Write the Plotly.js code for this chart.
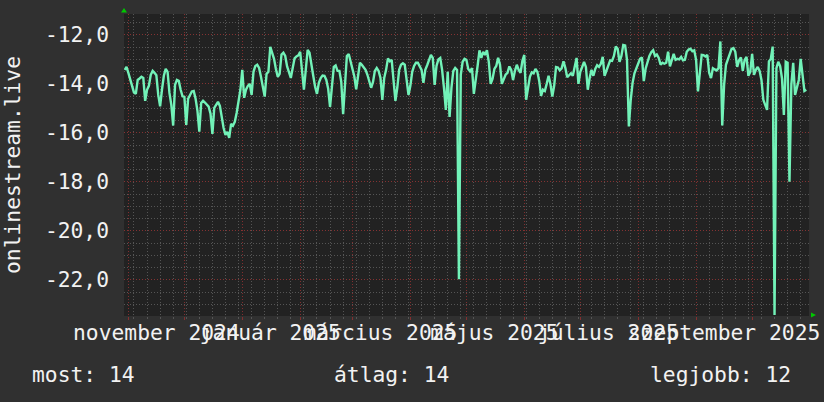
<!DOCTYPE html>
<html>
<head>
<meta charset="utf-8">
<script src="https://cdn.plot.ly/plotly-3.0.1.min.js"></script>
<style>
html, body { margin: 0; padding: 0; background: #303030; }
#chart { width: 824px; height: 402px; }
</style>
</head>
<body>
<div id="chart"></div>
<script>
// ---- data (one value per day, starting at startDate) ----
const startDate = '2024-10-30';
const values = [
-13.43,-13.31,-13.55,-13.80,-14.00,-14.35,-14.41,-13.84,-13.78,-13.71,
-13.76,-14.69,-14.24,-14.08,-13.63,-13.47,-13.55,-13.65,-14.45,-14.92,
-14.24,-13.67,-13.39,-13.51,-14.37,-14.86,-15.70,-14.04,-13.84,-13.88,
-14.24,-14.51,-14.53,-15.67,-14.61,-14.45,-14.31,-14.29,-14.61,-15.10,
-15.95,-14.78,-14.69,-14.76,-14.84,-14.93,-15.22,-16.04,-14.98,-14.82,
-14.73,-14.90,-15.39,-15.80,-16.08,-15.96,-16.20,-15.63,-15.71,-15.55,
-15.18,-14.65,-14.24,-13.43,-14.57,-14.24,-14.08,-14.00,-14.45,-13.51,
-13.27,-13.22,-13.35,-13.71,-14.20,-14.52,-13.59,-13.51,-12.49,-12.73,
-12.98,-13.39,-13.71,-13.59,-12.80,-12.73,-12.86,-13.29,-13.51,-13.76,
-13.35,-12.96,-12.88,-12.84,-12.69,-13.51,-14.24,-13.43,-12.61,-12.73,
-13.27,-13.67,-14.12,-14.41,-13.96,-13.76,-13.66,-13.67,-13.84,-14.20,
-14.94,-14.08,-13.31,-13.25,-13.47,-13.47,-13.92,-15.24,-14.16,-12.86,
-12.78,-13.06,-13.39,-13.70,-14.22,-13.67,-13.14,-13.22,-13.35,-13.43,
-13.63,-13.96,-14.16,-13.92,-13.47,-13.35,-13.47,-13.76,-14.65,-13.76,
-13.43,-12.96,-13.08,-13.02,-14.04,-14.69,-14.16,-13.43,-13.22,-13.16,
-13.22,-13.92,-14.45,-14.08,-13.51,-13.27,-13.14,-13.14,-13.27,-13.43,
-13.96,-13.43,-13.24,-13.06,-12.82,-12.94,-14.04,-13.27,-13.00,-12.94,
-13.43,-14.16,-15.06,-13.51,-15.35,-14.16,-13.47,-13.35,-13.43,-21.97,
-13.63,-13.10,-12.98,-13.02,-13.39,-13.49,-13.36,-14.41,-13.92,-13.27,
-12.63,-12.94,-12.69,-12.82,-12.63,-13.10,-14.00,-13.80,-13.39,-13.27,
-12.94,-13.22,-14.00,-13.78,-13.63,-13.55,-13.29,-13.43,-13.84,-13.47,
-13.22,-13.43,-13.55,-13.06,-12.82,-14.65,-14.16,-13.71,-13.53,-13.57,
-13.39,-13.51,-13.88,-14.49,-14.24,-14.29,-14.00,-13.67,-14.00,-14.52,
-14.08,-13.31,-13.33,-13.45,-13.37,-13.08,-13.35,-13.73,-13.65,-13.57,
-13.67,-13.35,-12.94,-14.00,-13.51,-13.31,-13.10,-13.31,-14.24,-13.76,
-13.43,-13.67,-13.39,-13.24,-13.31,-13.18,-12.90,-13.67,-13.43,-13.22,
-13.04,-13.06,-12.86,-12.47,-12.57,-13.10,-12.86,-12.41,-12.43,-13.02,
-15.74,-14.65,-13.96,-13.57,-13.37,-13.18,-12.98,-12.92,-13.89,-13.37,
-13.06,-12.86,-12.71,-12.63,-12.86,-12.80,-12.94,-13.22,-13.14,-13.18,
-13.14,-12.69,-13.29,-13.04,-12.78,-13.02,-12.98,-13.00,-12.90,-13.04,
-13.02,-12.69,-12.60,-12.57,-12.67,-12.63,-13.02,-14.31,-13.63,-12.82,
-12.83,-12.88,-12.82,-13.55,-13.76,-13.36,-13.41,-13.45,-13.36,-12.27,
-15.70,-14.04,-13.22,-13.02,-12.78,-12.57,-12.54,-12.69,-13.31,-13.04,
-12.92,-13.47,-13.02,-12.90,-13.67,-13.51,-12.78,-13.63,-13.43,-13.31,
-13.47,-13.84,-14.65,-14.86,-15.06,-13.08,-12.98,-12.48,-23.43,-13.36,
-13.10,-13.27,-13.78,-15.27,-13.10,-13.14,-17.99,-14.04,-13.14,-14.45,
-14.08,-13.84,-12.98,-13.76,-14.29,-14.24
];
const xRange = ['2024-10-29 16:00', '2025-10-31 11:00'];
const yRange = [-23.47, -11.15];
const yTickVals = [-22, -20, -18, -16, -14, -12];
const yTickText = ['-22,0', '-20,0', '-18,0', '-16,0', '-14,0', '-12,0'];
const monthLabelDates = ['2024-11-16', '2025-01-16', '2025-03-16', '2025-05-16', '2025-07-16', '2025-09-16'];
const monthLabelText = ['november 2024', 'január 2025', 'március 2025', 'május 2025', 'július 2025', 'szeptember 2025'];
const seriesName = 'onlinestream.live';
const statLabels = ['most', 'átlag', 'legjobb'];
const statValues = ['14', '14', '12'];

// ---- style ----
const FONT = 'DejaVu Sans Mono';
const FS = 21.3;
const TEXT = '#f2f2f2';
const MAJOR = 'rgba(135,48,48,0.95)';
const MINOR = 'rgba(85,85,85,1)';
const DASH = '1px,2px';
const DAY_MS = 86400000;

const trace = {
  type: 'scatter',
  mode: 'lines',
  x0: startDate,
  dx: DAY_MS,
  y: values,
  line: { color: '#72f2b8', width: 2.4 },
  hoverinfo: 'skip'
};

// carrier trace so the label axis (x2) is created; it draws nothing
const labelAxisTrace = {
  type: 'scatter', mode: 'lines', xaxis: 'x2', yaxis: 'y',
  x: monthLabelDates, y: monthLabelDates.map(() => null),
  hoverinfo: 'skip', showlegend: false
};

const statX = [-0.1372, 0.3037, 0.7650];
const annotations = statLabels.map((lab, i) => ({
  xref: 'paper', yref: 'paper', x: statX[i], y: -0.193,
  xanchor: 'left', yanchor: 'middle', showarrow: false,
  text: lab + ': ' + statValues[i],
  font: { family: FONT, size: FS, color: TEXT }
}));

const layout = {
  width: 824, height: 402,
  margin: { l: 124, r: 15, t: 14, b: 86, pad: 0 },
  paper_bgcolor: '#303030',
  plot_bgcolor: '#222222',
  font: { family: FONT, size: FS, color: TEXT },
  showlegend: false,
  xaxis: {
    type: 'date', range: xRange, fixedrange: true,
    tickmode: 'linear', tick0: '2024-11-01', dtick: 'M1',
    showticklabels: false,
    showgrid: true, gridcolor: MAJOR, griddash: DASH, gridwidth: 1,
    ticks: 'outside', ticklen: 3, tickcolor: MAJOR,
    zeroline: false, showline: false,
    minor: {
      tickmode: 'linear', tick0: '2024-11-04', dtick: 7 * DAY_MS,
      showgrid: true, gridcolor: MINOR, griddash: DASH, gridwidth: 1,
      ticks: 'outside', ticklen: 2, tickcolor: MINOR
    }
  },
  xaxis2: {
    type: 'date', range: xRange, overlaying: 'x', anchor: 'y', side: 'bottom',
    fixedrange: true,
    tickmode: 'array', tickvals: monthLabelDates, ticktext: monthLabelText,
    tickangle: 0, ticklabeloverflow: 'allow',
    showgrid: false, zeroline: false, showline: false, ticks: '',
    ticklabelstandoff: 2,
    tickfont: { family: FONT, size: FS, color: TEXT }
  },
  yaxis: {
    range: yRange, fixedrange: true,
    tickmode: 'array', tickvals: yTickVals, ticktext: yTickText,
    showgrid: true, gridcolor: MAJOR, griddash: DASH, gridwidth: 1,
    ticks: '', zeroline: false, showline: false,
    ticklabelstandoff: 14,
    tickfont: { family: FONT, size: FS, color: TEXT },
    title: { text: seriesName, standoff: 22, font: { family: FONT, size: FS, color: TEXT } },
    minor: {
      tickmode: 'linear', tick0: 0, dtick: 0.5,
      showgrid: true, gridcolor: MINOR, griddash: DASH, gridwidth: 1
    }
  },
  shapes: [
    { type: 'path', xref: 'paper', yref: 'paper', xsizemode: 'pixel', ysizemode: 'pixel',
      xanchor: 0, yanchor: 1, path: 'M -3 1.5 L 3 1.5 L 0 6 Z',
      fillcolor: '#00c800', line: { width: 0 } },
    { type: 'path', xref: 'paper', yref: 'paper', xsizemode: 'pixel', ysizemode: 'pixel',
      xanchor: 1, yanchor: 0, path: 'M 2 -1.5 L 2 3.5 L 7 1 Z',
      fillcolor: '#00c800', line: { width: 0 } }
  ],
  annotations: annotations
};

Plotly.newPlot('chart', [trace, labelAxisTrace], layout, { staticPlot: true, displayModeBar: false });
</script>
</body>
</html>
